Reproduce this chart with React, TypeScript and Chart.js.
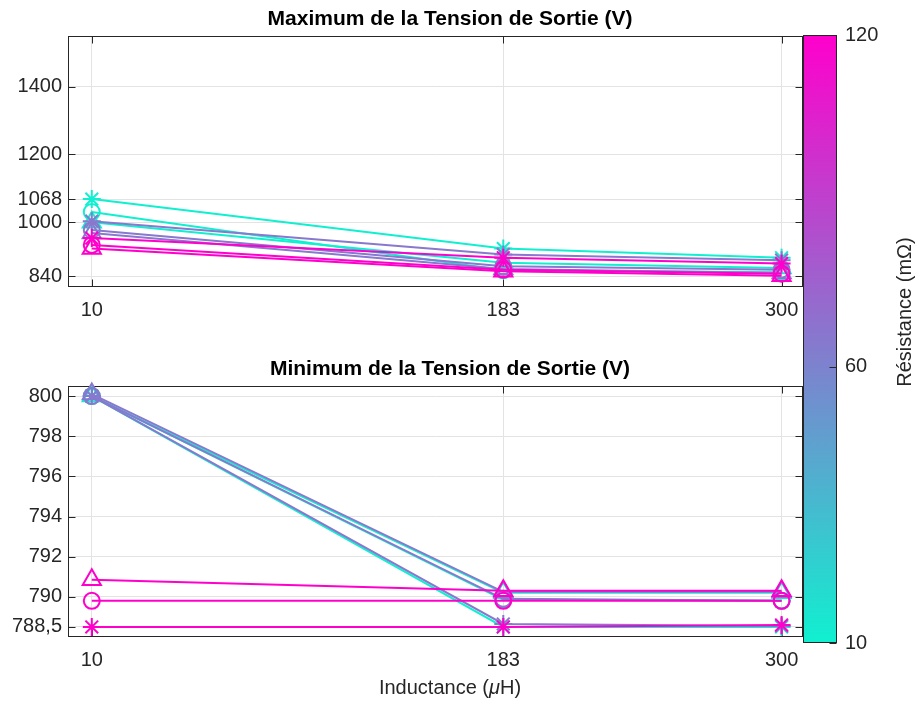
import React, { useEffect, useRef } from 'react';
import { Chart, registerables } from 'chart.js';

Chart.register(...registerables);

// ---------- data ----------
const inductanceUH = [10, 183, 300];
const resistanceMOhm = [10, 65, 120];
const markerStyles = ['star', 'circle', 'triangle'];

const xTicks = [10, 183, 300];
const xTickLabels = ['10', '183', '300'];
const maxYTicks = [840, 1000, 1068, 1200, 1400];
const maxYTickLabels = ['840', '1000', '1068', '1200', '1400'];
const minYTicks = [788.5, 790, 792, 794, 796, 798, 800];
const minYTickLabels = ['788,5', '790', '792', '794', '796', '798', '800'];
const colorbarTicks = [10, 60, 120];
const colorbarTickLabels = ['10', '60', '120'];

const titleMax = 'Maximum de la Tension de Sortie (V)';
const titleMin = 'Minimum de la Tension de Sortie (V)';
const xLabelParts = ['Inductance (', 'μ', 'H)'];
const colorbarLabel = 'Résistance (mΩ)';

// Maximum (V) — per resistance, per marker
const maxR10Star = [1068, 922, 895];
const maxR10Circle = [1030, 858, 852];
const maxR10Triangle = [1000, 880, 865];
const maxR65Star = [1003, 905, 888];
const maxR65Circle = [977, 870, 860];
const maxR65Triangle = [968, 862, 850];
const maxR120Star = [953, 895, 878];
const maxR120Circle = [933, 860, 848];
const maxR120Triangle = [922, 855, 842];

// Minimum (V)
const minR10Star = [800, 788.5, 788.5];
const minR10Circle = [800, 789.85, 789.8];
const minR10Triangle = [800, 790.2, 790.2];
const minR65Star = [800, 788.65, 788.55];
const minR65Circle = [800, 789.9, 789.8];
const minR65Triangle = [800.1, 790.25, 790.25];
const minR120Star = [788.5, 788.5, 788.6];
const minR120Circle = [789.8, 789.8, 789.8];
const minR120Triangle = [790.85, 790.3, 790.3];

const maxSeries = [
  [maxR10Star, maxR10Circle, maxR10Triangle],
  [maxR65Star, maxR65Circle, maxR65Triangle],
  [maxR120Star, maxR120Circle, maxR120Triangle],
];
const minSeries = [
  [minR10Star, minR10Circle, minR10Triangle],
  [minR65Star, minR65Circle, minR65Triangle],
  [minR120Star, minR120Circle, minR120Triangle],
];

// ---------- style ----------
const FONT = '"Liberation Sans", Arial, Helvetica, sans-serif';
const TICK_FONT = { family: FONT, size: 20 };
const AXIS_COLOR = '#262626';
const GRID_COLOR = '#e3e3e3';
const W = 922;
const H = 702;
const AX_LEFT = 68;
const AX_RIGHT = 803;
const TEXT_CX = 450;

function cmap(r: number) {
  const t = (r - 10) / 110;
  return `rgb(${Math.round(16 + 239 * t)},${Math.round(240 - 240 * t)},${Math.round(208 - 4 * t)})`;
}

function buildDatasets(series: number[][][]) {
  const ds: any[] = [];
  const radii = [9, 8, 10.5];
  for (let ri = resistanceMOhm.length - 1; ri >= 0; ri--) {
    const c = cmap(resistanceMOhm[ri]);
    for (let mi = 0; mi < markerStyles.length; mi++) {
      ds.push({
        data: inductanceUH.map((x, i) => ({ x, y: series[ri][mi][i] })),
        borderColor: c,
        backgroundColor: 'rgba(0,0,0,0)',
        pointBorderColor: c,
        pointBackgroundColor: 'rgba(0,0,0,0)',
        pointStyle: markerStyles[mi],
        pointRadius: radii[mi],
        pointBorderWidth: 2,
        borderWidth: 2,
        tension: 0,
        clip: false,
      });
    }
  }
  return ds;
}

const framePlugin = {
  id: 'frame',
  beforeDatasetsDraw(chart: any, _a: any, opts: any) {
    if (!opts || !opts.enabled) return;
    const { ctx, chartArea: a } = chart;
    const L = Math.round(a.left) + 0.5;
    const R = Math.round(a.right) - 0.5;
    const T = Math.round(a.top) + 0.5;
    const B = Math.round(a.bottom) - 0.5;
    ctx.save();
    if (opts.gradient) {
      const g = ctx.createLinearGradient(0, a.bottom, 0, a.top);
      g.addColorStop(0, cmap(opts.gradient[0]));
      g.addColorStop(1, cmap(opts.gradient[1]));
      ctx.fillStyle = g;
      ctx.fillRect(a.left, a.top, a.right - a.left, a.bottom - a.top);
    }
    ctx.strokeStyle = AXIS_COLOR;
    ctx.lineWidth = 1;
    ctx.strokeRect(L, T, R - L, B - T);
    const tl = 7;
    ctx.beginPath();
    if (opts.xTicks) {
      const xs = chart.scales.x;
      for (const v of opts.xTicks) {
        const px = Math.round(xs.getPixelForValue(v)) + 0.5;
        ctx.moveTo(px, B); ctx.lineTo(px, B - tl);
        ctx.moveTo(px, T); ctx.lineTo(px, T + tl);
      }
    }
    if (opts.yTicks) {
      const ys = chart.scales.y;
      for (const v of opts.yTicks) {
        const py = Math.round(ys.getPixelForValue(v)) + 0.5;
        if (opts.leftTicks !== false) { ctx.moveTo(L, py); ctx.lineTo(L + tl, py); }
        ctx.moveTo(R, py); ctx.lineTo(R - tl, py);
      }
    }
    ctx.stroke();
    ctx.restore();
  },
  afterDraw(chart: any, _a: any, opts: any) {
    if (!opts || !opts.enabled) return;
    const { ctx, chartArea: a } = chart;
    ctx.save();
    ctx.textBaseline = 'middle';
    if (opts.title) {
      ctx.font = `bold 21px ${FONT}`;
      ctx.fillStyle = '#000';
      ctx.textAlign = 'center';
      ctx.fillText(opts.title, TEXT_CX, a.top - 17);
    }
    if (opts.xLabel) {
      const fonts = [`20px ${FONT}`, `italic 20px ${FONT}`, `20px ${FONT}`];
      let total = 0;
      const widths = opts.xLabel.map((p: string, i: number) => { ctx.font = fonts[i]; const w = ctx.measureText(p).width; total += w; return w; });
      let x = TEXT_CX - total / 2;
      ctx.fillStyle = AXIS_COLOR;
      ctx.textAlign = 'left';
      opts.xLabel.forEach((p: string, i: number) => { ctx.font = fonts[i]; ctx.fillText(p, x, a.bottom + 51); x += widths[i]; });
    }
    if (opts.sideLabel) {
      ctx.font = `20px ${FONT}`;
      ctx.fillStyle = AXIS_COLOR;
      ctx.textAlign = 'center';
      ctx.translate(opts.sideLabelX, opts.sideLabelY);
      ctx.rotate(-Math.PI / 2);
      ctx.fillText(opts.sideLabel, 0, 0);
    }
    ctx.restore();
  },
};

function plotConfig(series: number[][][], yMin: number, yMax: number, yTicks: number[], yLabels: string[], top: number, bottom: number, title: string, withXLabel: boolean): any {
  const xAxisH = 40;
  return {
    type: 'line',
    data: { datasets: buildDatasets(series) },
    plugins: [framePlugin],
    options: {
      responsive: false,
      animation: false,
      events: [],
      layout: { padding: { left: 0, right: W - AX_RIGHT, top, bottom: H - bottom - xAxisH } },
      plugins: {
        legend: { display: false },
        tooltip: { enabled: false },
        title: { display: false },
        frame: { enabled: true, title, xLabel: withXLabel ? xLabelParts : null, xTicks, yTicks },
      },
      scales: {
        x: {
          type: 'linear',
          min: 0,
          max: 309,
          afterBuildTicks: (s: any) => { s.ticks = xTicks.map((v) => ({ value: v })); },
          afterFit: (s: any) => { s.height = xAxisH; },
          ticks: {
            callback: (v: number) => { const i = xTicks.indexOf(v); return i >= 0 ? xTickLabels[i] : ''; },
            font: TICK_FONT, color: AXIS_COLOR, padding: 11, maxRotation: 0, autoSkip: false,
          },
          grid: { color: GRID_COLOR, drawTicks: false, lineWidth: 1 },
          border: { display: false },
        },
        y: {
          type: 'linear',
          min: yMin,
          max: yMax,
          afterBuildTicks: (s: any) => { s.ticks = yTicks.map((v) => ({ value: v })); },
          afterFit: (s: any) => { s.width = AX_LEFT; },
          ticks: {
            callback: (v: number) => { const i = yTicks.indexOf(v); return i >= 0 ? yLabels[i] : ''; },
            font: TICK_FONT, color: AXIS_COLOR, padding: 6, autoSkip: false,
          },
          grid: { color: GRID_COLOR, drawTicks: false, lineWidth: 1 },
          border: { display: false },
        },
      },
    },
  };
}

function colorbarConfig(): any {
  const top = 35, bottom = 643, left = 803, right = 837, axW = 45;
  return {
    type: 'line',
    data: { datasets: [] },
    plugins: [framePlugin],
    options: {
      responsive: false,
      animation: false,
      events: [],
      layout: { padding: { left, right: W - right - axW, top, bottom: H - bottom } },
      plugins: {
        legend: { display: false },
        tooltip: { enabled: false },
        frame: {
          enabled: true,
          gradient: [resistanceMOhm[0], resistanceMOhm[resistanceMOhm.length - 1]],
          yTicks: colorbarTicks,
          leftTicks: false,
          sideLabel: colorbarLabel,
          sideLabelX: 905,
          sideLabelY: 312,
        },
      },
      scales: {
        x: { type: 'linear', display: false, min: 0, max: 1 },
        y: {
          type: 'linear',
          position: 'right',
          min: 10,
          max: 120,
          afterBuildTicks: (s: any) => { s.ticks = colorbarTicks.map((v) => ({ value: v })); },
          afterFit: (s: any) => { s.width = axW; },
          ticks: {
            callback: (v: number) => { const i = colorbarTicks.indexOf(v); return i >= 0 ? colorbarTickLabels[i] : ''; },
            font: TICK_FONT, color: AXIS_COLOR, padding: 8, autoSkip: false,
          },
          grid: { display: false, drawTicks: false },
          border: { display: false },
        },
      },
    },
  };
}

export default function App() {
  const topRef = useRef<HTMLCanvasElement>(null);
  const botRef = useRef<HTMLCanvasElement>(null);
  const cbRef = useRef<HTMLCanvasElement>(null);

  useEffect(() => {
    const charts: Chart[] = [];
    if (topRef.current) {
      charts.push(new Chart(topRef.current, plotConfig(maxSeries, 808.8, 1549, maxYTicks, maxYTickLabels, 36, 287, titleMax, false)));
    }
    if (botRef.current) {
      charts.push(new Chart(botRef.current, plotConfig(minSeries, 788.0, 800.5, minYTicks, minYTickLabels, 386, 637, titleMin, true)));
    }
    if (cbRef.current) {
      charts.push(new Chart(cbRef.current, colorbarConfig()));
    }
    return () => { charts.forEach((c) => c.destroy()); };
  }, []);

  const cs: React.CSSProperties = { position: 'absolute', left: 0, top: 0, width: W, height: H };
  return (
    <div style={{ position: 'absolute', left: 0, top: 0, width: W, height: H, background: '#fff' }}>
      <canvas ref={topRef} width={W} height={H} style={cs} />
      <canvas ref={botRef} width={W} height={H} style={cs} />
      <canvas ref={cbRef} width={W} height={H} style={cs} />
    </div>
  );
}
